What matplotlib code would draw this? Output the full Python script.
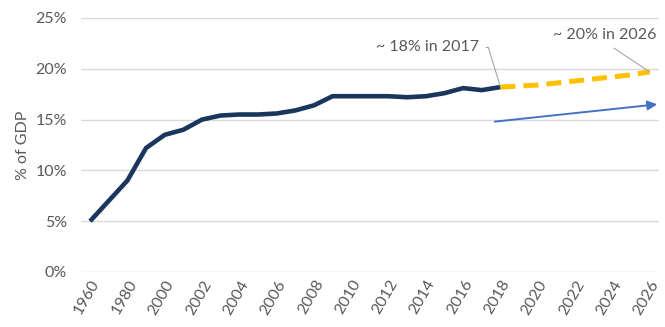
import numpy as np
import matplotlib
matplotlib.use("Agg")
import matplotlib.pyplot as plt

plt.rcParams['font.family'] = ['Lato', 'DejaVu Sans']

# Historical series (% of GDP) and projection
years = ["1960", "1970", "1980", "1990"] + [str(y) for y in range(2000, 2027)]
hist_years = ["1960", "1970", "1980", "1990"] + [str(y) for y in range(2000, 2019)]
hist_vals = [5.0, 7.0, 9.0, 12.2, 13.5, 14.0, 15.0, 15.4, 15.5, 15.5, 15.6, 15.9,
             16.4, 17.3, 17.3, 17.3, 17.3, 17.2, 17.3, 17.6, 18.1, 17.9, 18.2]
proj_years = [str(y) for y in range(2018, 2027)]
proj_vals = [18.2, 18.3, 18.4, 18.6, 18.8, 19.0, 19.2, 19.4, 19.7]

# trend arrow start/end (category position, % of GDP)
arrow_x = [21.7, 30.4]
arrow_y = [14.8, 16.5]

tick_col = '#595959'
fs = 11.5

fig = plt.figure(figsize=(6.65, 3.27), dpi=100)
ax = fig.add_axes([0.1214, 0.1682, 0.8696, 0.7768])

pos = {y: i for i, y in enumerate(years)}
hx = [pos[y] for y in hist_years]
px = [pos[y] for y in proj_years]

ax.plot(hx, np.array(hist_vals) / 100, color='#1B365D', lw=3.3,
        solid_capstyle='butt', solid_joinstyle='round', zorder=3)
ax.plot(px, np.array(proj_vals) / 100, color='#FFC000', lw=3.6,
        linestyle=(0, (3, 1.6)), dash_capstyle='butt', zorder=3)

ax.annotate('', xy=(arrow_x[1], arrow_y[1] / 100), xytext=(arrow_x[0], arrow_y[0] / 100),
            arrowprops=dict(arrowstyle='-|>', color='#4472C4', lw=1.4,
                            mutation_scale=14, shrinkA=0, shrinkB=0), zorder=4)

# callouts
ax.annotate('~ 18% in 2017', xy=(pos['2018'], 0.182), xytext=(18.1, 0.221),
            fontsize=fs, color=tick_col, ha='center', va='center',
            arrowprops=dict(arrowstyle='-', color='#A6A6A6', lw=0.8, relpos=(1.0, 0.5),
                            connectionstyle='angle,angleA=0,angleB=107,rad=0',
                            shrinkA=3, shrinkB=0))
ax.annotate('~ 20% in 2026', xy=(pos['2026'], 0.197), xytext=(27.6, 0.233),
            fontsize=fs, color=tick_col, ha='center', va='center',
            arrowprops=dict(arrowstyle='-', color='#A6A6A6', lw=0.8,
                            relpos=(0.5, 0.0), shrinkA=4, shrinkB=0))

ax.set_xlim(-0.5, len(years) - 0.5)
ax.set_ylim(0, 0.25)
ax.set_yticks(np.arange(0, 0.26, 0.05))
ax.set_yticklabels([f"{int(round(v * 100))}%" for v in np.arange(0, 0.26, 0.05)])
ax.set_xticks(range(0, len(years), 2))
ax.set_xticklabels(years[::2], rotation=60, ha='right', va='top', rotation_mode='anchor')

ax.grid(axis='y', color='#D9D9D9', lw=1.0)
ax.set_axisbelow(True)
for s in ax.spines.values():
    s.set_visible(False)
ax.tick_params(axis='both', length=0, labelsize=fs, colors=tick_col)
ax.tick_params(axis='y', pad=10)
ax.tick_params(axis='x', pad=4)
ax.set_ylabel('% of GDP', fontsize=fs, color=tick_col, labelpad=4)

plt.savefig('out.png', dpi=100)
